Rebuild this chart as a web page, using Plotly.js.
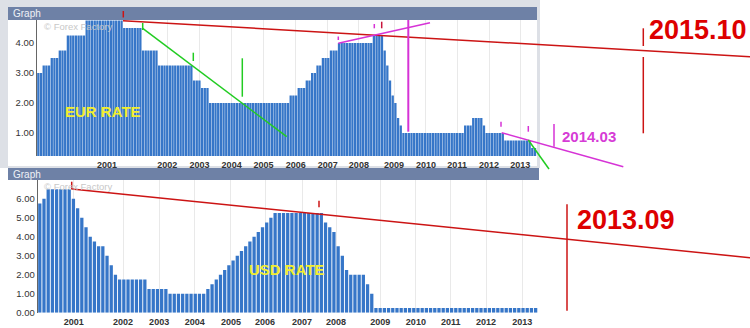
<!DOCTYPE html>
<html>
<head>
<meta charset="utf-8">
<script src="https://cdn.plot.ly/plotly-3.0.1.min.js"></script>
<style>html,body{margin:0;padding:0;background:#fff;}#chart{width:750px;height:328px;}</style>
</head>
<body>
<div id="chart"></div>
<script>
// ---- data ----
const yearLabels = ['2001','2002','2003','2004','2005','2006','2007','2008','2009','2010','2011','2012','2013'];
// bar index at which each year label sits
const eurYearAt = [25.6, 48.0, 60.0, 72.0, 83.9, 95.9, 107.8, 119.4, 132.5, 144.4, 156.0, 167.9, 179.5];
const usdYearAt = [8.1, 19.8, 28.4, 36.9, 45.5, 53.6, 62.4, 70.5, 81.0, 89.5, 97.8, 106.2, 114.8];

const eurRate = [
  3.00,3.00, 3.25,3.25,3.25, 3.50,3.50,3.50, 3.75,3.75,3.75,
  4.25,4.25,4.25,4.25,4.25,4.25,4.25,
  4.75,4.75,4.75,4.75,4.75,4.75,4.75,4.75,4.75,4.75,4.75,4.75,4.75,4.75,
  4.50,4.50,4.50,4.50,4.50,4.50,4.50,
  3.75,3.75,3.75,3.75,3.75,3.75,
  3.25,3.25,3.25,3.25,3.25,3.25,3.25,3.25,3.25,3.25,3.25,3.25,3.25,
  2.75,2.75,2.75, 2.50,2.50,2.50,
  2.00,2.00,2.00,2.00,2.00,2.00,2.00,2.00,2.00,2.00,2.00,2.00,2.00,2.00,2.00,
  2.00,2.00,2.00,2.00,2.00,2.00,2.00,2.00,2.00,2.00,2.00,2.00,2.00,2.00,2.00,
  2.25,2.25,2.25, 2.50,2.50,2.50, 2.75,2.75, 3.00,3.00, 3.25,3.25, 3.50,3.50,3.50, 3.75,3.75,3.75,
  4.00,4.00,4.00,4.00,4.00,4.00,4.00,4.00,4.00,4.00,4.00,4.00,4.00,
  4.25,4.25,4.25,4.25,
  3.75,3.25,2.75,2.25,2.00,1.50,1.25,
  1.00,1.00,1.00,1.00,1.00,1.00,1.00,1.00,1.00,1.00,1.00,1.00,1.00,1.00,1.00,1.00,1.00,1.00,1.00,1.00,1.00,1.00,1.00,
  1.25,1.25,1.25, 1.50,1.50,1.50,1.50, 1.25,
  1.00,1.00,1.00,1.00,1.00,1.00,1.00,
  0.75,0.75,0.75,0.75,0.75,0.75,0.75,0.75,0.75,0.75,
  0.50,0.50
];

const usdRate = [
  5.75, 6.00, 6.50,6.50,6.50,6.50,6.50,6.50,
  6.00,5.50,5.00,4.50,4.00,3.75,3.50,3.50,
  3.00,2.50,2.00,
  1.75,1.75,1.75,1.75,1.75,1.75,1.75,
  1.25,1.25,1.25,1.25,1.25,
  1.00,1.00,1.00,1.00,1.00,1.00,1.00,1.00,1.00,
  1.25,1.50,1.75,2.00,2.25,2.50,2.75,3.00,3.25,3.50,3.75,4.00,4.25,4.50,4.75,5.00,
  5.25,5.25,5.25,5.25,5.25,5.25,5.25,5.25,5.25,5.25,5.25,5.25,
  4.75,4.50,4.25,3.50,3.00,2.25,
  2.00,2.00,2.00,2.00,
  1.50,1.00,
  0.25,0.25,0.25,0.25,0.25,0.25,0.25,0.25,0.25,0.25,0.25,0.25,0.25,
  0.25,0.25,0.25,0.25,0.25,0.25,0.25,0.25,0.25,0.25,0.25,0.25,0.25,
  0.25,0.25,0.25,0.25,0.25,0.25,0.25,0.25,0.25,0.25,0.25,0.25,0.25
];

// ---- layout helpers (page pixels -> paper) ----
const W = 750, H = 328;
const px = x => x / W;
const py = y => 1 - y / H;
function seg(x0, y0, x1, y1, color, width) {
  return {type:'line', xref:'paper', yref:'paper', x0:px(x0), y0:py(y0), x1:px(x1), y1:py(y1),
          line:{color:color, width:width||1.5}, layer:'above'};
}
function box(x0, y0, x1, y1, color) {
  return {type:'rect', xref:'paper', yref:'paper', x0:px(x0), y0:py(y1), x1:px(x1), y1:py(y0),
          fillcolor:color, line:{width:0}, layer:'below'};
}
function label(x, y, text, size, color, bold) {
  return {xref:'paper', yref:'paper', x:px(x), y:py(y), xanchor:'left', yanchor:'middle',
          text: bold ? '<b>' + text + '</b>' : text, showarrow:false, borderpad:0,
          font:{family:'Liberation Sans, Arial, sans-serif', size:size, color:color}};
}

const RED = '#cc1414', GREEN = '#22cc22', MAG = '#d633d6';
const barColor = '#3676c8';

const traces = [
  {type:'bar', y:eurRate, width:0.86, xaxis:'x', yaxis:'y', marker:{color:barColor, line:{width:0}}, hoverinfo:'skip'},
  {type:'bar', y:usdRate, width:0.78, xaxis:'x2', yaxis:'y2', marker:{color:barColor, line:{width:0}}, hoverinfo:'skip'}
];

const tickFont = {family:'Liberation Sans, Arial, sans-serif', size:9, color:'#333', weight:'bold'};
const yFont = {family:'Liberation Sans, Arial, sans-serif', size:9.5, color:'#333'};

const layout = {
  width:W, height:H, margin:{l:0, r:0, t:0, b:0},
  paper_bgcolor:'#ffffff', plot_bgcolor:'#ffffff',
  showlegend:false,
  xaxis:{domain:[px(37), px(537)], range:[-0.5, eurRate.length - 0.25], anchor:'y',
         tickmode:'array', tickvals:eurYearAt, ticktext:yearLabels, ticks:'',
         showgrid:true, gridcolor:'#e9e9e9', zeroline:false, tickfont:tickFont, ticklabelstandoff:2},
  yaxis:{domain:[py(156), py(20)], range:[0.233, 4.767], anchor:'x',
         tickmode:'array', tickvals:[1,2,3,4], tickformat:'.2f', ticks:'',
         showgrid:false, zeroline:false, showline:true, linecolor:'#666', linewidth:1, tickfont:yFont},
  xaxis2:{domain:[px(37.7), px(539)], range:[-0.5, usdRate.length - 0.2], anchor:'y2',
         tickmode:'array', tickvals:usdYearAt, ticktext:yearLabels, ticks:'',
         showgrid:true, gridcolor:'#e9e9e9', zeroline:false, tickfont:tickFont, ticklabelstandoff:2},
  yaxis2:{domain:[py(312.7), py(180)], range:[0, 6.98], anchor:'x2',
         tickmode:'array', tickvals:[0,1,2,3,4,5,6], tickformat:'.2f', ticks:'',
         showgrid:false, zeroline:false, showline:true, linecolor:'#666', linewidth:1, tickfont:yFont},
  shapes:[
    // panel frames
    box(0, 0, 540, 168, '#dde0e6'),
    box(8, 20, 537, 166, '#ffffff'),
    box(8, 7, 537, 20, '#6e81a6'),
    box(8, 168, 539, 180, '#6e81a6'),
    // top panel hand-drawn lines
    seg(123, 20.7, 750, 56.7, RED, 1.5),
    seg(123.3, 11, 123.3, 17.5, RED, 1.5),
    seg(142.7, 28.3, 286.7, 136.7, GREEN, 1.5),
    seg(142.7, 23, 142.7, 30, GREEN, 1.5),
    seg(193.3, 52.7, 193.3, 61, GREEN, 1.5),
    seg(242.3, 58.3, 242.3, 96.7, GREEN, 1.5),
    seg(338.3, 43.3, 430, 22.7, MAG, 1.5),
    seg(408.3, 20, 408.3, 131.7, MAG, 2),
    seg(338.3, 36.5, 338.3, 40, MAG, 1.5),
    seg(374.3, 24, 374.3, 28.3, MAG, 1.5),
    seg(381.7, 21.7, 381.7, 28.3, '#c8143c', 1.5),
    seg(501.7, 132.7, 623.3, 166.7, MAG, 1.5),
    seg(501, 121.7, 501, 126.7, MAG, 1.5),
    seg(528.3, 126, 528.3, 131.7, MAG, 1.5),
    seg(554, 124, 554, 146.7, MAG, 1.5),
    seg(528.3, 140, 549, 169, GREEN, 1.5),
    seg(643.3, 28.3, 643.3, 46, RED, 1.5),
    seg(643.3, 57, 643.3, 133.3, RED, 1.5),
    // bottom panel hand-drawn lines
    seg(71.7, 189, 750, 257.7, RED, 1.5),
    seg(71.7, 181.7, 71.7, 190, RED, 1.5),
    seg(319, 200.7, 319, 207.3, RED, 1.5),
    seg(567, 204.3, 567, 310.7, RED, 1.5)
  ],
  annotations:[
    label(12, 13.5, 'Graph', 10, '#eef1f7', false),
    label(12, 174, 'Graph', 10, '#eef1f7', false),
    label(43, 26.5, '© Forex Factory', 9.5, '#c8c8c8', false),
    label(43, 186.5, '© Forex Factory', 9.5, '#c8c8c8', false),
    label(64, 111.7, 'EUR RATE', 15, '#f2ee2e', true),
    label(248, 269.3, 'USD RATE', 15, '#f2ee2e', true),
    label(648, 30, '2015.10', 27, '#dd0000', true),
    label(576, 220, '2013.09', 27, '#dd0000', true),
    label(561, 136.7, '2014.03', 15, '#d63cd6', true)
  ]
};

Plotly.newPlot('chart', traces, layout, {staticPlot:true, displayModeBar:false});
</script>
</body>
</html>
